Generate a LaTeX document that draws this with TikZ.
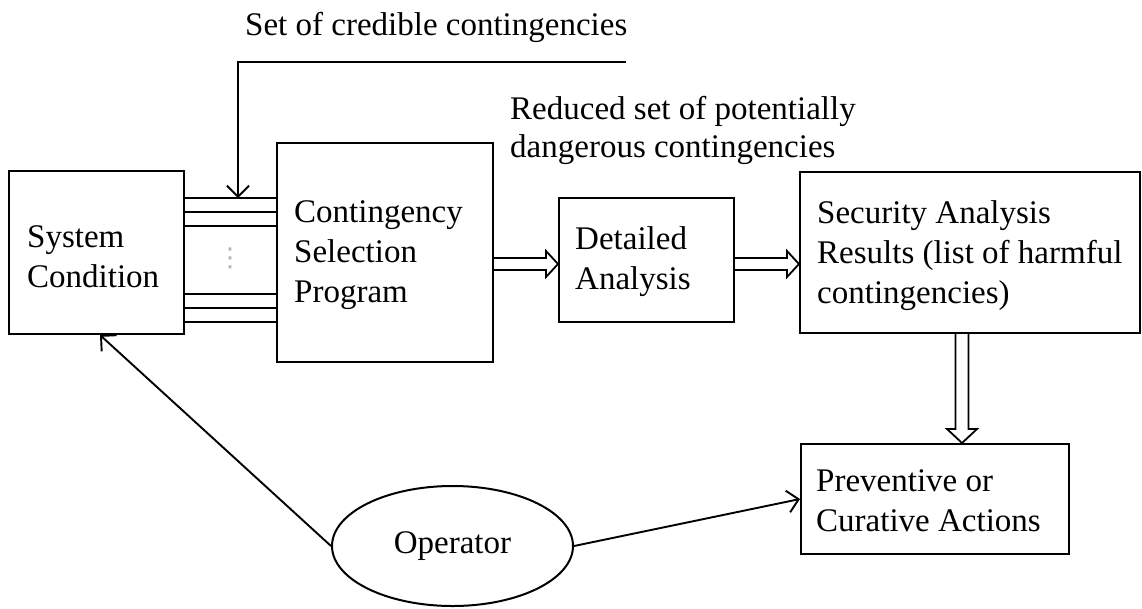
\documentclass[tikz,border=0pt]{standalone}
\usepackage{fontspec}
\setmainfont{Liberation Serif}
\newfontfamily\dejavu{DejaVu Sans}
\usetikzlibrary{arrows.meta,shapes.geometric,calc}
\begin{document}
\begin{tikzpicture}[x=1pt,y=-1pt]
\tikzset{
  box/.style={draw, line width=2pt, inner sep=0pt},
  txt/.style={font=\fontsize{33}{40}\selectfont, align=left, inner sep=0pt, anchor=west},
  thinline/.style={line width=1.9pt},
  blockline/.style={line width=1.8pt, line join=miter},
  tip/.style={-{Straight Barb[length=11pt,width=22pt,line width=1.9pt]}},
  harrow/.style={to path={let \p1=(\tikztostart), \p2=(\tikztotarget) in
    (\x1,\y1+6pt) -- (\x2-12pt,\y1+6pt) -- (\x2-12pt,\y1+13pt) -- (\x2,\y1) --
    (\x2-12pt,\y1-13pt) -- (\x2-12pt,\y1-6pt) -- (\x1,\y1-6pt)}},
  varrow/.style={to path={let \p1=(\tikztostart), \p2=(\tikztotarget) in
    (\x1-6.5pt,\y1) -- (\x1-6.5pt,\y2+14pt) -- (\x1-15pt,\y2+14pt) -- (\x1,\y2) --
    (\x1+15pt,\y2+14pt) -- (\x1+6.5pt,\y2+14pt) -- (\x1+6.5pt,\y1)}},
}
\useasboundingbox[fill=white] (0,0) rectangle (1142,608);

% boxes
\node[box, minimum width=175pt, minimum height=163pt] (sc) at (96.5,252.5) {};
\node[box, minimum width=216pt, minimum height=219pt] (cs) at (385,252.5) {};
\node[box, minimum width=175pt, minimum height=124pt] (da) at (646.5,260) {};
\node[box, minimum width=340pt, minimum height=161pt] (sa) at (970,252.5) {};
\node[box, minimum width=268pt, minimum height=110pt] (pa) at (935,499) {};
\node[box, ellipse, minimum width=241pt, minimum height=120pt] (op) at (452.5,546) {};

% box texts
\node[txt] (sct) at ([xshift=19pt,yshift=-4pt]sc.west) {System\\Condition};
\node[txt] (cst) at ([xshift=18pt,yshift=-3pt]cs.west) {Contingency\\Selection\\Program};
\node[txt] (dat) at ([xshift=17pt,yshift=-2pt]da.west) {Detailed\\Analysis};
\node[txt] (sat) at ([xshift=18pt,yshift=-3pt]sa.west) {Security Analysis\\Results (list of harmful\\contingencies)};
\node[txt] (pat) at ([xshift=16pt,yshift=-2pt]pa.west) {Preventive or\\Curative Actions};
\node[font=\fontsize{33}{40}\selectfont, inner sep=0pt] (opt) at (op.center) {Operator};

% free labels
\node[txt, anchor=base west] (l1) at (245,35) {Set of credible contingencies};
\node[txt, anchor=base west, font=\fontsize{33}{38}\selectfont] (l2) at (510,157) {Reduced set of potentially\\dangerous contingencies};

% bundle of lines
\foreach \yy in {198,212,226,294,308,322}
  \draw[thinline] (sc.east |- 0,\yy) -- (cs.west |- 0,\yy);
\node[text=gray!60, font=\dejavu\fontsize{26}{26}\selectfont, inner sep=0pt] (dots) at (230,258) {⋮};

% incoming contingencies
\coordinate (t0) at (626,62);
\coordinate (t1) at (238,62);
\coordinate (t2) at (238,198);
\draw[thinline, tip] (t0) -- (t1) -- (t2);

% block arrows
\draw[blockline] ([yshift=-4pt]da.west -| cs.east) to[harrow] (da.west);
\draw[blockline] ([yshift=-4pt]da.east) to[harrow] (sa.west);
\draw[blockline] ([xshift=-8pt]sa.south) to[varrow] (pa.north);

% operator arrows
\draw[thinline, tip] (op.west) -- ([xshift=3.5pt]sc.south);
\draw[thinline, tip] (op.east) -- (pa.west);
\end{tikzpicture}
\end{document}
